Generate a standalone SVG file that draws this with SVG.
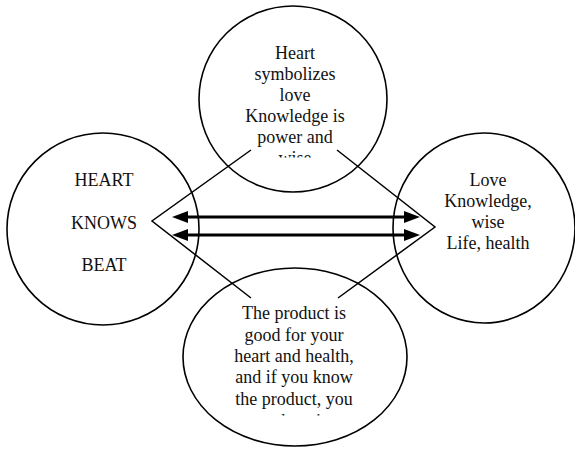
<svg xmlns="http://www.w3.org/2000/svg" width="575" height="449" viewBox="0 0 575 449">
  <style>
    .node { fill: none; stroke: #000; stroke-width: 1.6; }
    .label { font-size: 18px; fill: #111; text-anchor: middle; }
    .edge { fill: none; stroke: #000; stroke-width: 1.5; }
    .arrow { fill: none; stroke: #000; stroke-width: 2.8; marker-start: url(#head); marker-end: url(#head); }
  </style>
  <defs>
    <marker id="head" viewBox="0 0 16 12" refX="2" refY="6" markerWidth="16" markerHeight="12" markerUnits="userSpaceOnUse" orient="auto-start-reverse">
      <path d="M0,0 L16,6 L0,12 Z" fill="#000"/>
    </marker>
    <clipPath id="clipTop"><rect x="200" y="0" width="190" height="157.5"/></clipPath>
    <clipPath id="clipBottom"><rect x="180" y="268" width="230" height="147.5"/></clipPath>
  </defs>
  <rect width="575" height="449" fill="#fff"/>

  <g font-family="'Liberation Serif', 'DejaVu Serif', 'Times New Roman', serif">
    <g id="node-top">
      <ellipse class="node" cx="293" cy="99" rx="94" ry="93"/>
      <g clip-path="url(#clipTop)">
        <text class="label" x="295" y="59">Heart</text>
        <text class="label" x="295" y="80">symbolizes</text>
        <text class="label" x="295" y="101">love</text>
        <text class="label" x="295" y="122">Knowledge is</text>
        <text class="label" x="295" y="143">power and</text>
        <text class="label" x="295" y="164">wise</text>
      </g>
    </g>

    <g id="node-left">
      <ellipse class="node" cx="103" cy="229" rx="96" ry="96"/>
      <text class="label" x="104" y="186">HEART</text>
      <text class="label" x="104" y="229">KNOWS</text>
      <text class="label" x="104" y="271">BEAT</text>
    </g>

    <g id="node-right">
      <ellipse class="node" cx="484" cy="228" rx="91" ry="95"/>
      <text class="label" x="488" y="186">Love</text>
      <text class="label" x="488" y="207">Knowledge,</text>
      <text class="label" x="488" y="228">wise</text>
      <text class="label" x="488" y="249">Life, health</text>
    </g>

    <g id="node-bottom">
      <ellipse class="node" cx="295" cy="357" rx="112" ry="89"/>
      <g clip-path="url(#clipBottom)">
        <text class="label" x="294" y="319">The product is</text>
        <text class="label" x="294" y="341">good for your</text>
        <text class="label" x="294" y="362">heart and health,</text>
        <text class="label" x="294" y="383">and if you know</text>
        <text class="label" x="294" y="405">the product, you</text>
        <text class="label" x="294" y="427">can be wise</text>
      </g>
    </g>
  </g>

  <g id="connectors">
    <polyline class="edge" points="251,150 152,221 251,298"/>
    <polyline class="edge" points="337,150 435,227 338,298"/>
    <line class="arrow" x1="186" y1="217" x2="406" y2="217"/>
    <line class="arrow" x1="186" y1="235" x2="406" y2="235"/>
  </g>
</svg>
